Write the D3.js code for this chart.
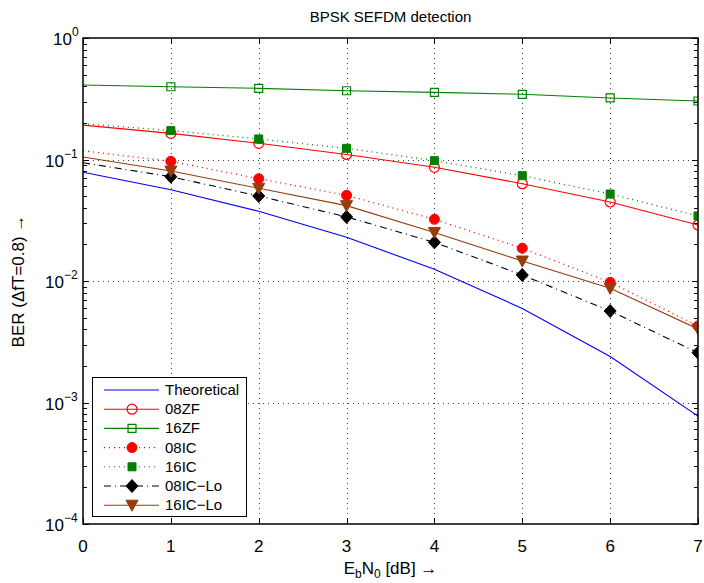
<!DOCTYPE html>
<html>
<head>
<meta charset="utf-8">
<script src="https://cdn.jsdelivr.net/npm/d3@7"></script>
<style>
body { margin: 0; background: #fff; }
svg { font-family: "Liberation Sans", Arial, sans-serif; }
</style>
</head>
<body>
<svg id="chart" width="704" height="583"></svg>
<script>
// values
var ebn0 = [0, 1, 2, 3, 4, 5, 6, 7];
var theoretical = [0.0786, 0.0563, 0.0375, 0.0229, 0.0125, 0.00595, 0.00239, 0.000773];
var zf08 = [0.192, 0.164, 0.136, 0.110, 0.0863, 0.0632, 0.0447, 0.0289];
var zf16 = [0.41, 0.397, 0.385, 0.368, 0.357, 0.344, 0.321, 0.303];
var ic08 = [0.118, 0.0966, 0.0695, 0.0507, 0.0322, 0.0186, 0.00975, 0.00426];
var ic16 = [0.197, 0.173, 0.1476, 0.1236, 0.0978, 0.0736, 0.052, 0.0343];
var ic08lo = [0.094, 0.0722, 0.0501, 0.0337, 0.0208, 0.0112, 0.00566, 0.00257];
var ic16lo = [0.105, 0.0804, 0.058, 0.0417, 0.0251, 0.0146, 0.0087, 0.00403];
var xTicks = [0, 1, 2, 3, 4, 5, 6, 7];
var yExps = [0, -1, -2, -3, -4];

var series = [
  {name: "Theoretical", values: theoretical, color: "#0000ff", dash: null, marker: null},
  {name: "08ZF", values: zf08, color: "#ff0000", dash: null, marker: "circle", fill: false},
  {name: "16ZF", values: zf16, color: "#008000", dash: null, marker: "square", fill: false},
  {name: "08IC", values: ic08, color: "#ff0000", dash: "1,4", marker: "circle", fill: true},
  {name: "16IC", values: ic16, color: "#008000", dash: "1,4", marker: "square", fill: true},
  {name: "08IC\u2212Lo", values: ic08lo, color: "#000000", dash: "7,4,1,4", marker: "diamond", fill: true},
  {name: "16IC\u2212Lo", values: ic16lo, color: "#963c0f", dash: null, marker: "triangle", fill: true}
];

var svg = d3.select("#chart"),
    margin = {top: 38, right: 6, bottom: 59, left: 83},
    width = +svg.attr("width"),
    height = +svg.attr("height");

var x = d3.scaleLinear().domain([0, 7]).range([margin.left, width - margin.right]);
var y = d3.scaleLog().domain([1e-4, 1]).range([height - margin.bottom, margin.top]);

var x0 = x.range()[0], x1 = x.range()[1], y0 = y.range()[0], y1 = y.range()[1];

svg.append("rect").attr("x", 0).attr("y", 0).attr("width", width).attr("height", height).attr("fill", "#fff");

// grid
var grid = svg.append("g").attr("stroke", "#000").attr("stroke-width", 1).attr("stroke-dasharray", "1,4").attr("opacity", 0.75);
grid.selectAll("line.vx").data(xTicks.slice(1, -1)).enter().append("line")
    .attr("x1", function(d) { return Math.round(x(d)) + 0.5; })
    .attr("x2", function(d) { return Math.round(x(d)) + 0.5; })
    .attr("y1", y1).attr("y2", y0);
grid.selectAll("line.hy").data(yExps.slice(1, -1)).enter().append("line")
    .attr("y1", function(d) { return Math.round(y(Math.pow(10, d))) + 0.5; })
    .attr("y2", function(d) { return Math.round(y(Math.pow(10, d))) + 0.5; })
    .attr("x1", x0).attr("x2", x1);

// ticks (inward, both sides)
var ticks = svg.append("g").attr("stroke", "#000").attr("stroke-width", 1);
xTicks.forEach(function(t) {
  var px = Math.round(x(t)) + 0.5;
  ticks.append("line").attr("x1", px).attr("x2", px).attr("y1", y0).attr("y2", y0 - 6);
  ticks.append("line").attr("x1", px).attr("x2", px).attr("y1", y1).attr("y2", y1 + 6);
});
yExps.forEach(function(e) {
  for (var m = 1; m < 10; m++) {
    var v = m * Math.pow(10, e);
    if (v < 1e-4 || v > 1) continue;
    var py = Math.round(y(v)) + 0.5;
    var len = m === 1 ? 6 : 4;
    ticks.append("line").attr("x1", x0).attr("x2", x0 + len).attr("y1", py).attr("y2", py);
    ticks.append("line").attr("x1", x1).attr("x2", x1 - len).attr("y1", py).attr("y2", py);
  }
});

// clip
svg.append("clipPath").attr("id", "clip").append("rect")
    .attr("x", x0).attr("y", y1).attr("width", x1 - x0).attr("height", y0 - y1);

var plot = svg.append("g").attr("clip-path", "url(#clip)");

var line = d3.line()
    .x(function(d, i) { return x(ebn0[i]); })
    .y(function(d) { return y(d); });

function markerPath(type) {
  if (type === "circle") return d3.symbol().type(d3.symbolCircle).size(Math.PI * 25)();
  if (type === "square") return d3.symbol().type(d3.symbolSquare).size(64)();
  if (type === "diamond") return "M0,-6.5L6,0L0,6.5L-6,0Z";
  if (type === "triangle") return "M-6,-5L6,-5L0,6Z";
  return null;
}

function drawMarker(g, s, px, py) {
  var p = g.append("path").attr("d", markerPath(s.marker))
      .attr("transform", "translate(" + px + "," + py + ")");
  if (s.fill) {
    p.attr("fill", s.color).attr("stroke", s.color).attr("stroke-width", 1);
  } else {
    p.attr("fill", "none").attr("stroke", s.color).attr("stroke-width", 1.2);
  }
}

series.forEach(function(s) {
  plot.append("path").datum(s.values)
      .attr("d", line)
      .attr("fill", "none")
      .attr("stroke", s.color)
      .attr("stroke-width", s.dash === "1,4" ? 1.3 : 1.1)
      .attr("stroke-dasharray", s.dash);
});
series.forEach(function(s) {
  if (!s.marker) return;
  s.values.forEach(function(v, i) {
    if (ebn0[i] === 0) return;
    drawMarker(plot, s, x(ebn0[i]), y(v));
  });
});

// box
svg.append("rect").attr("x", x0).attr("y", y1).attr("width", x1 - x0).attr("height", y0 - y1)
    .attr("fill", "none").attr("stroke", "#000").attr("stroke-width", 1.5);

// tick labels
svg.append("g").selectAll("text").data(xTicks).enter().append("text")
    .attr("x", function(d) { return x(d); })
    .attr("y", y0 + 28)
    .attr("text-anchor", "middle")
    .attr("font-size", 17)
    .text(function(d) { return d; });

var yl = svg.append("g").selectAll("text").data(yExps).enter().append("text")
    .attr("y", function(d) { return y(Math.pow(10, d)) + 7; })
    .attr("font-size", 17);
yl.append("tspan").text("10");
yl.append("tspan").attr("dy", -9).attr("font-size", 12)
    .text(function(d) { return d === 0 ? "0" : "\u2212" + (-d); });
// superscript hangs off the right of "10"
yl.attr("x", function(d) { return d === 0 ? x0 - 30 : x0 - 38; });

// title
svg.append("text").attr("x", (x0 + x1) / 2).attr("y", 22)
    .attr("text-anchor", "middle").attr("font-size", 15)
    .text("BPSK SEFDM detection");

// x label
var xl = svg.append("text").attr("x", (x0 + x1) / 2).attr("y", y0 + 50)
    .attr("text-anchor", "middle").attr("font-size", 17);
xl.append("tspan").text("E");
xl.append("tspan").attr("dy", 4).attr("font-size", 12).text("b");
xl.append("tspan").attr("dy", -4).text("N");
xl.append("tspan").attr("dy", 4).attr("font-size", 12).text("0");
xl.append("tspan").attr("dy", -4).text(" [dB] \u2192");

// y label
svg.append("text")
    .attr("transform", "translate(24," + ((y0 + y1) / 2) + ") rotate(-90)")
    .attr("text-anchor", "middle").attr("font-size", 17)
    .text("BER (\u0394fT=0.8) \u2192");

// legend
var lg = svg.append("g").attr("transform", "translate(92,377)");
lg.append("rect").attr("x", 0.5).attr("y", 0.5).attr("width", 154).attr("height", 139)
    .attr("fill", "#fff").attr("stroke", "#000").attr("stroke-width", 1);
series.forEach(function(s, i) {
  var ry = 13 + i * 19.2;
  lg.append("line").attr("x1", 12).attr("x2", 67).attr("y1", ry).attr("y2", ry)
      .attr("stroke", s.color).attr("stroke-width", 1.1)
      .attr("stroke-dasharray", s.dash);
  if (s.marker) drawMarker(lg, s, 40, ry);
  lg.append("text").attr("x", 73).attr("y", ry + 5).attr("font-size", 15).text(s.name);
});
</script>
</body>
</html>
